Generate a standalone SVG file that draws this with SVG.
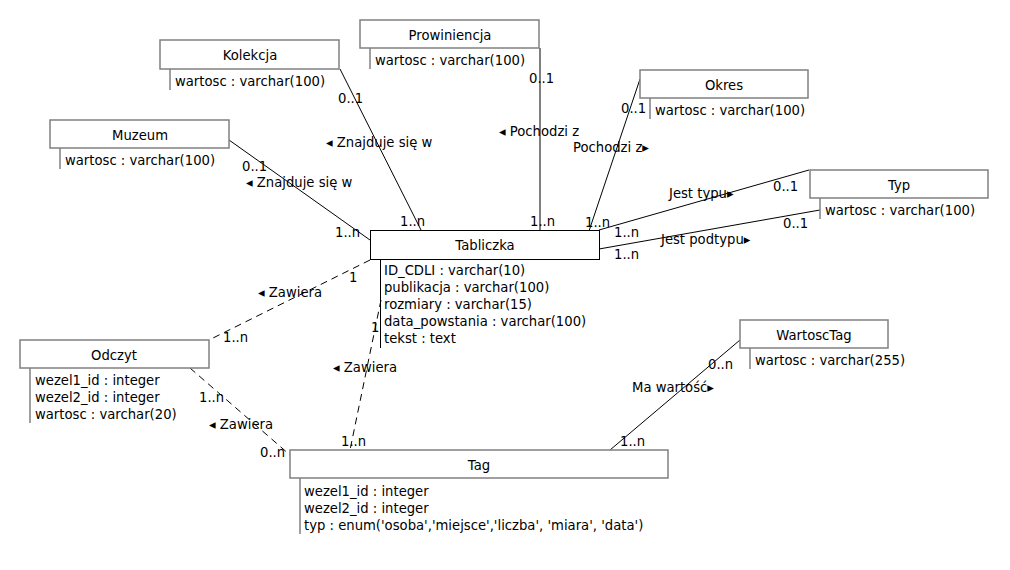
<svg xmlns="http://www.w3.org/2000/svg" width="1010" height="570" viewBox="0 0 1010 570">
<style>
text{font-family:"DejaVu Sans",sans-serif;font-size:13.2px;fill:#000}
.t{text-anchor:middle}
.box{fill:#fff;stroke:#808080;stroke-width:1.5}
.bar{stroke:#808080;stroke-width:1.5}
.boxk{fill:#fff;stroke:#000;stroke-width:1}
.bark{stroke:#000;stroke-width:1}
.c{stroke:#000;stroke-width:1;fill:none}
.d{stroke:#000;stroke-width:1;fill:none;stroke-dasharray:7,5}
</style>
<rect width="1010" height="570" fill="#fff"/>
<g id="connectors">
<line class="c" x1="340" y1="69" x2="421" y2="230"/>
<line class="c" x1="229" y1="140" x2="370" y2="240"/>
<line class="c" x1="540" y1="48" x2="540" y2="230"/>
<line class="c" x1="640" y1="79" x2="589" y2="231"/>
<line class="c" x1="599" y1="230" x2="809" y2="170"/>
<line class="c" x1="599" y1="249" x2="820" y2="210"/>
<line class="d" x1="370" y1="260" x2="209" y2="340"/>
<line class="d" x1="381" y1="300" x2="350" y2="450"/>
<line class="d" x1="190" y1="368" x2="290" y2="455"/>
<line class="c" x1="610" y1="450" x2="740" y2="340"/>
</g>
<g id="labels">
<text x="338" y="103">0..1</text>
<text x="326" y="147">◂ Znajduje się w</text>
<text x="400" y="226">1..n</text>
<text x="242" y="171">0..1</text>
<text x="246" y="187">◂ Znajduje się w</text>
<text x="335" y="237">1..n</text>
<text x="529" y="83">0..1</text>
<text x="499" y="136">◂ Pochodzi z</text>
<text x="530" y="226">1..n</text>
<text x="621" y="113">0..1</text>
<text x="573" y="152">Pochodzi z▸</text>
<text x="585" y="227">1..n</text>
<text x="669" y="198">Jest typu▸</text>
<text x="773" y="191">0..1</text>
<text x="614" y="237">1..n</text>
<text x="783" y="228">0..1</text>
<text x="661" y="244">Jest podtypu▸</text>
<text x="614" y="259">1..n</text>
<text x="349" y="282">1</text>
<text x="258" y="297">◂ Zawiera</text>
<text x="223" y="342">1..n</text>
<text x="371" y="332">1</text>
<text x="333" y="372">◂ Zawiera</text>
<text x="199" y="402">1..n</text>
<text x="209" y="429">◂ Zawiera</text>
<text x="260" y="457">0..n</text>
<text x="341" y="446">1..n</text>
<text x="620" y="446">1..n</text>
<text x="708" y="369">0..n</text>
<text x="632" y="392">Ma wartość▸</text>
</g>
<g id="Kolekcja">
<rect class="box" x="160" y="40" width="179" height="29"/>
<text class="t" x="250" y="60">Kolekcja</text>
<line class="bar" x1="170" y1="69" x2="170" y2="90"/>
<text x="175" y="86">wartosc : varchar(100)</text>
</g>
<g id="Prowiniencja">
<rect class="box" x="360" y="20" width="179" height="28"/>
<text class="t" x="450" y="40">Prowiniencja</text>
<line class="bar" x1="370" y1="48" x2="370" y2="69"/>
<text x="375" y="65">wartosc : varchar(100)</text>
</g>
<g id="Okres">
<rect class="box" x="640" y="70" width="168" height="28"/>
<text class="t" x="724" y="90">Okres</text>
<line class="bar" x1="650" y1="98" x2="650" y2="119"/>
<text x="655" y="115">wartosc : varchar(100)</text>
</g>
<g id="Muzeum">
<rect class="box" x="50" y="120" width="179" height="28"/>
<text class="t" x="140" y="140">Muzeum</text>
<line class="bar" x1="60" y1="148" x2="60" y2="169"/>
<text x="65" y="165">wartosc : varchar(100)</text>
</g>
<g id="Typ">
<rect class="box" x="810" y="170" width="178" height="28"/>
<text class="t" x="899" y="190">Typ</text>
<line class="bar" x1="820" y1="198" x2="820" y2="219"/>
<text x="825" y="215">wartosc : varchar(100)</text>
</g>
<g id="Tabliczka">
<rect class="boxk" x="370.5" y="230.5" width="229" height="29"/>
<text class="t" x="485" y="250">Tabliczka</text>
<line class="bark" x1="380.5" y1="260" x2="380.5" y2="348"/>
<text x="384" y="275">ID_CDLI : varchar(10)</text>
<text x="384" y="292">publikacja : varchar(100)</text>
<text x="384" y="309">rozmiary : varchar(15)</text>
<text x="384" y="326">data_powstania : varchar(100)</text>
<text x="384" y="343">tekst : text</text>
</g>
<g id="Odczyt">
<rect class="box" x="20" y="340" width="189" height="28"/>
<text class="t" x="114" y="360">Odczyt</text>
<line class="bar" x1="30" y1="368" x2="30" y2="423"/>
<text x="35" y="385">wezel1_id : integer</text>
<text x="35" y="402">wezel2_id : integer</text>
<text x="35" y="419">wartosc : varchar(20)</text>
</g>
<g id="WartoscTag">
<rect class="box" x="740" y="320" width="148" height="28"/>
<text class="t" x="814" y="340">WartoscTag</text>
<line class="bar" x1="750" y1="348" x2="750" y2="369"/>
<text x="755" y="365">wartosc : varchar(255)</text>
</g>
<g id="Tag">
<rect class="box" x="290" y="450" width="378" height="28"/>
<text class="t" x="479" y="470">Tag</text>
<line class="bar" x1="300" y1="478" x2="300" y2="534"/>
<text x="304" y="496">wezel1_id : integer</text>
<text x="304" y="513">wezel2_id : integer</text>
<text x="304" y="530">typ : enum('osoba','miejsce','liczba', 'miara', 'data')</text>
</g>
</svg>
